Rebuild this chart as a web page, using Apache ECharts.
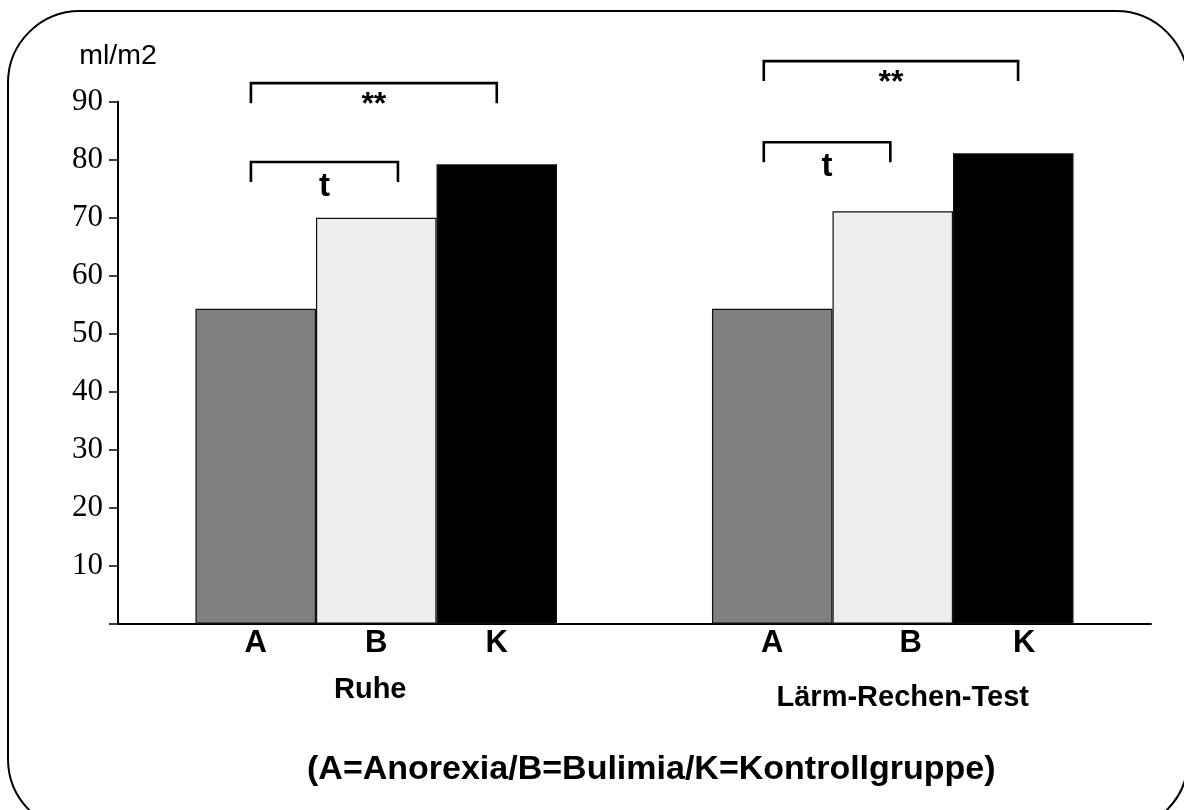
<!DOCTYPE html>
<html>
<head>
<meta charset="utf-8">
<script src="https://cdn.jsdelivr.net/npm/echarts@6/dist/echarts.min.js"></script>
<style>
  html, body { margin: 0; padding: 0; background: #fff; }
  #chart { width: 1184px; height: 810px; }
</style>
</head>
<body>
<div id="chart"></div>
<script>
// Conditions (x-axis groups)
const conditions = ['Ruhe', 'Lärm-Rechen-Test'];
// Groups drawn as bars inside each condition
const groupNames = ['A', 'B', 'K'];
// Values in ml/m2 per group, one entry per condition
const valuesA = [54.3, 54.3];
const valuesB = [70.0, 71.1];
const valuesK = [79.2, 81.1];
// Y-axis tick labels
const yTicks = [10, 20, 30, 40, 50, 60, 70, 80, 90];
// Significance brackets: [condition index, from bar, to bar, bracket height, mark]
const brackets = [
  [0, -0.04, 1.18, 79.6, 't'],
  [0, -0.04, 2.0, 93.2, '**'],
  [1, -0.07, 0.98, 83.0, 't'],
  [1, -0.07, 2.04, 97.0, '**']
];

const groupColors = ['#808080', '#eeeeee', '#000000'];
const groupValues = [valuesA, valuesB, valuesK];
// small horizontal nudges of the letters under the bars
const letterNudge = [[0, 0], [0, 18], [0, 11]];

const SANS = 'Liberation Sans, Arial, sans-serif';

const chart = echarts.init(document.getElementById('chart'));

const barSeries = groupNames.map((name, gi) => ({
  name: name,
  type: 'bar',
  barGap: '0%',
  barCategoryGap: '30%',
  itemStyle: { color: groupColors[gi], borderColor: '#111', borderWidth: 1.2 },
  label: {
    show: true,
    position: 'bottom',
    distance: 4,
    formatter: name,
    fontFamily: SANS,
    fontWeight: 'bold',
    fontSize: 31,
    color: '#000'
  },
  data: groupValues[gi].map((v, ci) => ({
    value: v,
    label: { offset: [letterNudge[gi][ci], 0] }
  })),
  z: 2
}));

const bracketSeries = {
  type: 'custom',
  clip: false,
  silent: true,
  z: 5,
  data: brackets,
  renderItem: function (params, api) {
    const cat = api.value(0);
    const catWidth = api.size([1, 0])[0];
    const barW = catWidth * 0.7 / 3;
    const center = api.coord([cat, 0])[0];
    const firstBar = center - barW;
    const x1 = firstBar + api.value(1) * barW;
    const x2 = firstBar + api.value(2) * barW;
    const yTop = api.coord([cat, api.value(3)])[1];
    const legLen = 20;
    const mark = brackets[params.dataIndex][4];
    return {
      type: 'group',
      children: [
        {
          type: 'polyline',
          shape: { points: [[x1, yTop + legLen], [x1, yTop], [x2, yTop], [x2, yTop + legLen]] },
          style: { stroke: '#000', lineWidth: 2.6, fill: null, lineCap: 'butt' }
        },
        {
          type: 'text',
          style: {
            text: mark,
            x: (x1 + x2) / 2,
            y: yTop + (mark === 't' ? 25 : 22),
            align: 'center',
            verticalAlign: 'middle',
            fontFamily: SANS,
            fontWeight: 'bold',
            fontSize: mark === 't' ? 33 : 32,
            fill: '#000'
          }
        }
      ]
    };
  }
};

chart.setOption({
  animation: false,
  backgroundColor: '#fff',
  title: {
    text: '(A=Anorexia/B=Bulimia/K=Kontrollgruppe)',
    left: 302,
    top: 748,
    textStyle: {
      fontFamily: SANS,
      fontWeight: 'bold',
      fontSize: 34,
      color: '#000'
    }
  },
  graphic: [{
    type: 'rect',
    shape: { x: 8, y: 11, width: 1180, height: 820, r: 72 },
    style: { fill: null, stroke: '#000', lineWidth: 2 },
    silent: true
  }],
  grid: { left: 118, right: 33, top: 101.7, bottom: 186.3 },
  xAxis: {
    type: 'category',
    data: conditions,
    axisLine: { lineStyle: { color: '#000', width: 2 } },
    axisTick: { show: false },
    axisLabel: {
      margin: 52,
      formatter: function (v, i) { return i === 0 ? '{a|' + v + '}' : '{b|' + v + '}'; },
      rich: {
        a: { fontFamily: SANS, fontWeight: 'bold', fontSize: 29, color: '#000', padding: [0, 12, 0, 0] },
        b: { fontFamily: SANS, fontWeight: 'bold', fontSize: 29, color: '#000', padding: [8, 0, 0, 20] }
      }
    }
  },
  yAxis: {
    type: 'value',
    min: 0,
    max: 90,
    interval: 10,
    name: 'ml/m2',
    nameLocation: 'end',
    nameGap: 46,
    nameTextStyle: {
      fontFamily: SANS,
      fontSize: 28.5,
      color: '#000',
      align: 'center',
      verticalAlign: 'middle',
      padding: [0, 0, 0, 0]
    },
    axisLine: { show: true, lineStyle: { color: '#000', width: 2 } },
    axisTick: { show: true, length: 9, lineStyle: { color: '#000', width: 1.5 } },
    splitLine: { show: false },
    axisLabel: {
      margin: 15,
      fontFamily: 'Liberation Serif, Times New Roman, serif',
      fontSize: 31,
      color: '#000',
      formatter: function (v) { return yTicks.indexOf(v) >= 0 ? String(v) : ''; }
    }
  },
  series: barSeries.concat([bracketSeries])
});
</script>
</body>
</html>
